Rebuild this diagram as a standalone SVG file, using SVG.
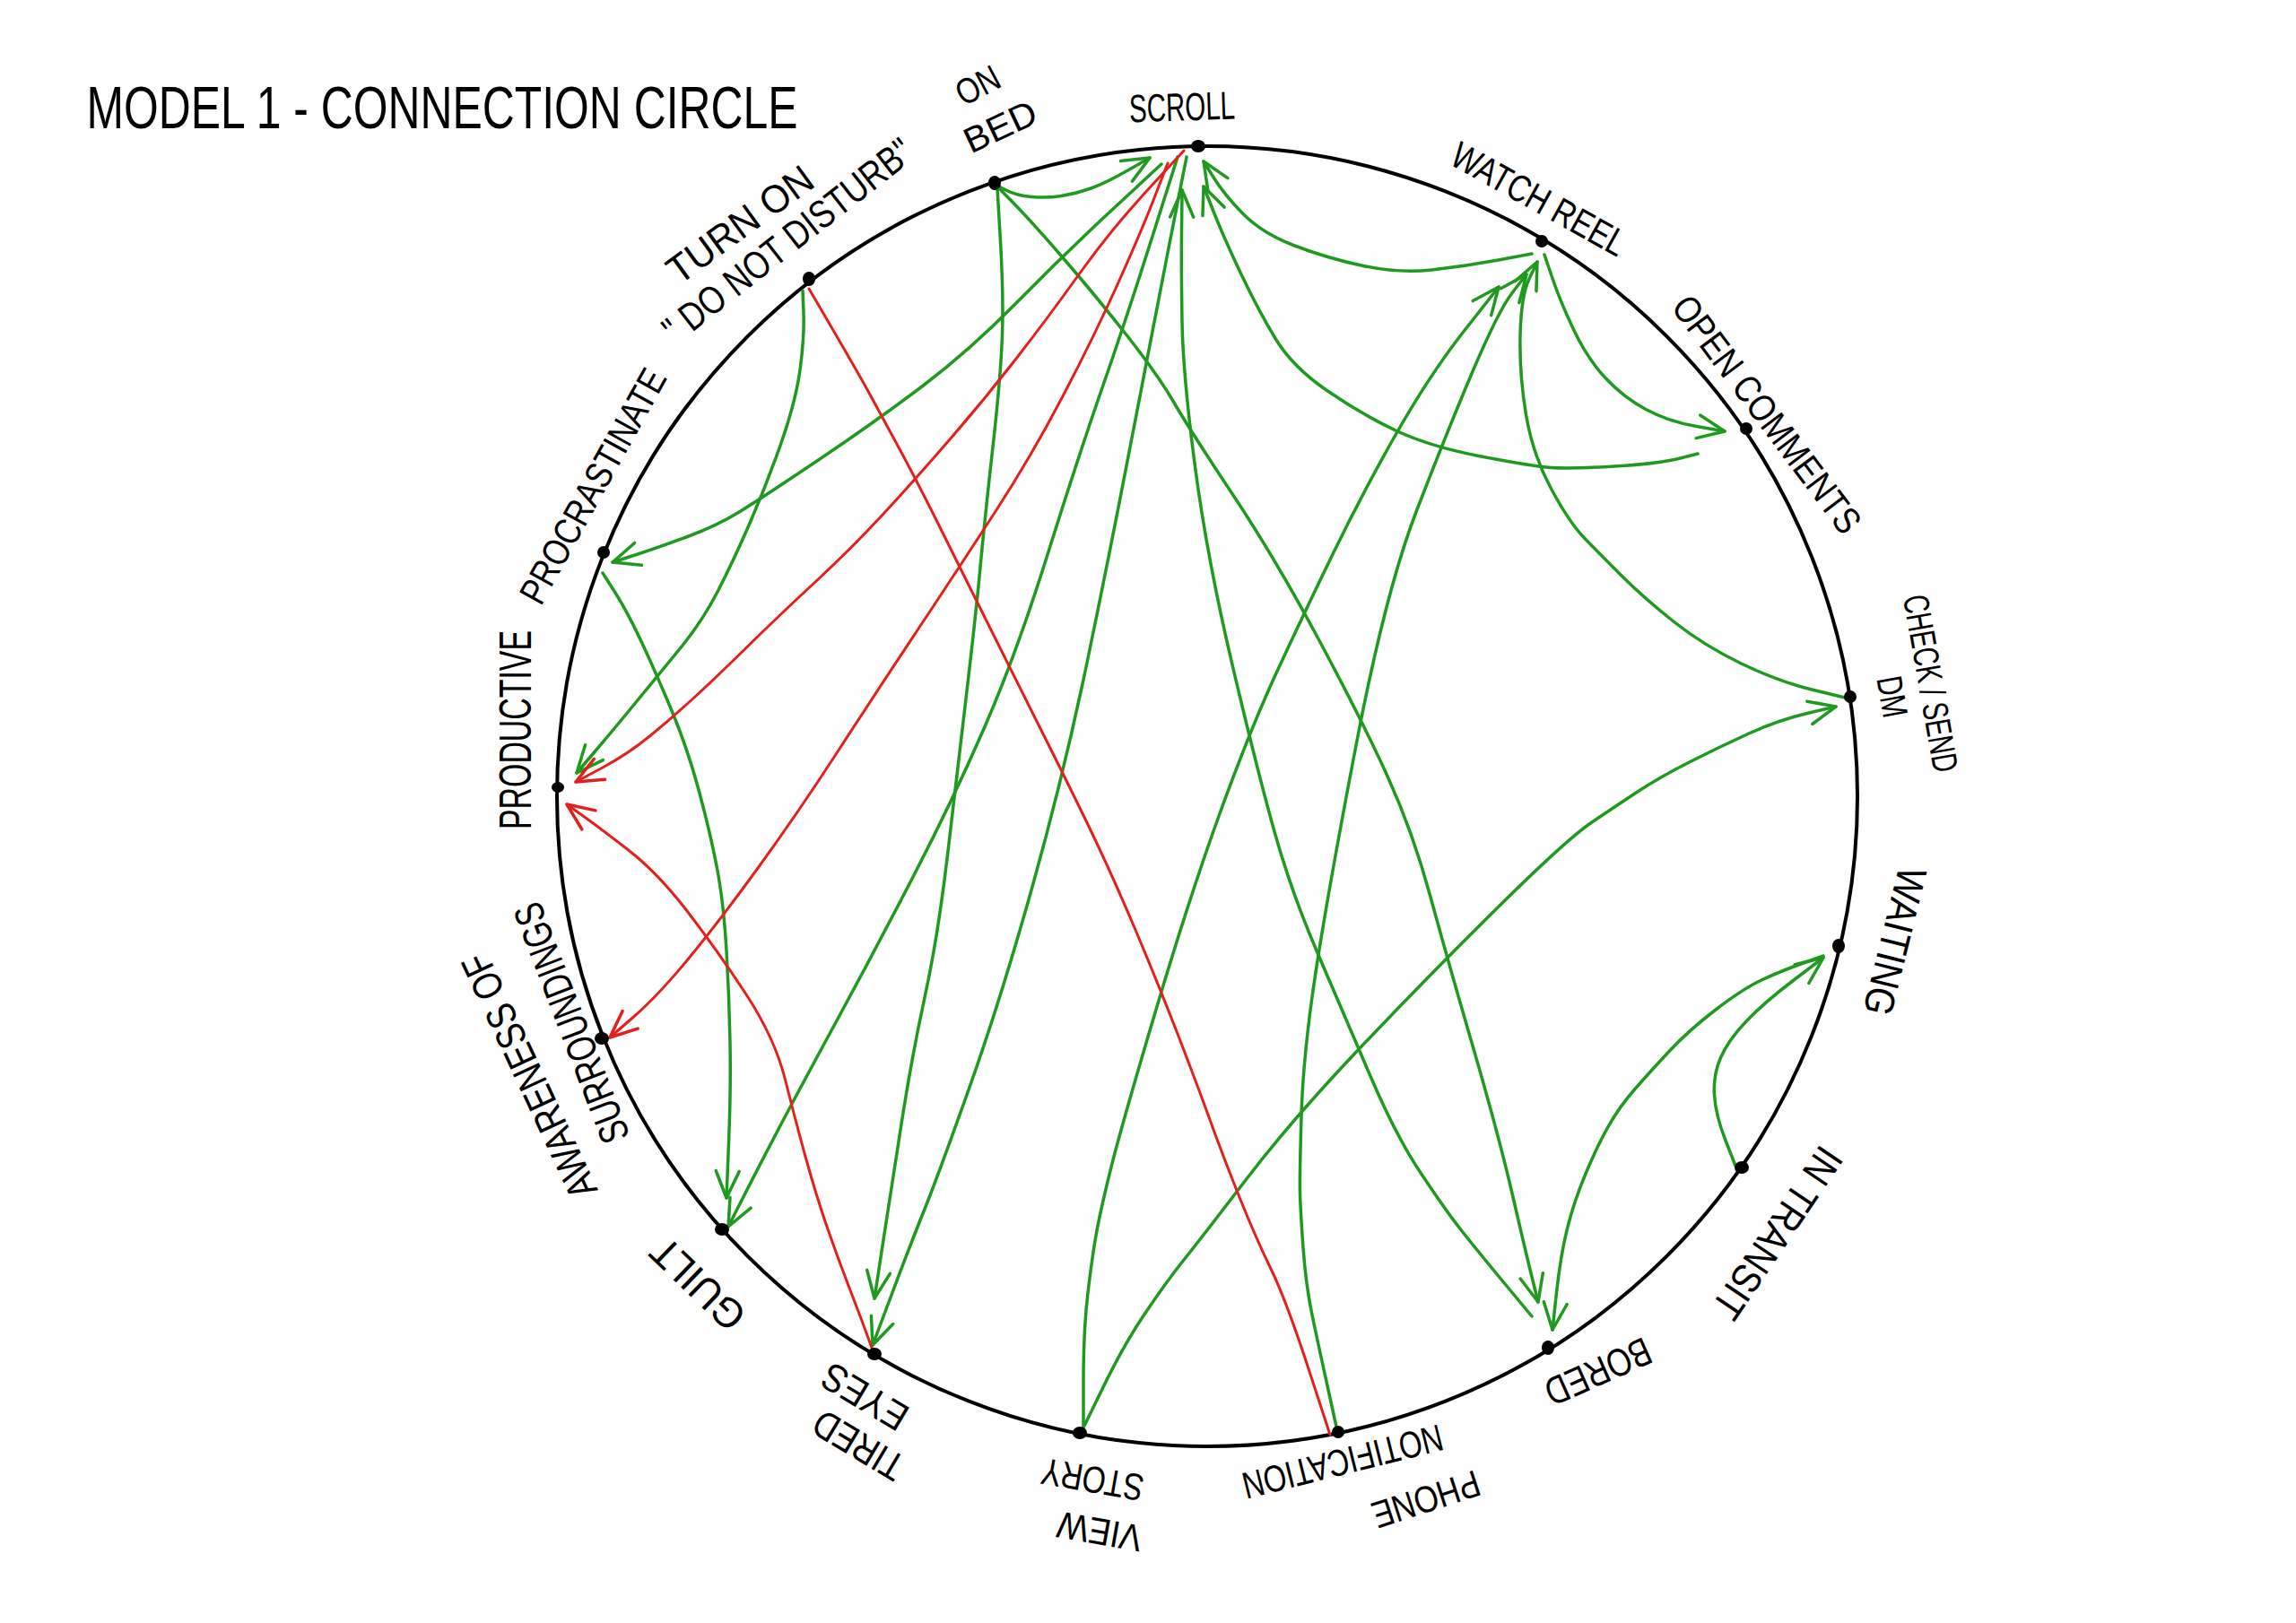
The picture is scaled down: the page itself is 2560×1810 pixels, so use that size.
<svg xmlns="http://www.w3.org/2000/svg" width="2560" height="1810" viewBox="0 0 2560 1810">
<style>
.bg{fill:#fff}
.ring{fill:none;stroke:#000;stroke-width:4}
.dot{fill:#000}
.lbl{font-family:"Liberation Sans",Arial,sans-serif;fill:#000;text-anchor:middle;dominant-baseline:central}
.g{fill:none;stroke:#1e9a1e;stroke-width:3.5;stroke-linecap:round;stroke-linejoin:round;marker-end:url(#ag)}
.r{fill:none;stroke:#e3201b;stroke-width:3;stroke-linecap:round;stroke-linejoin:round;marker-end:url(#ar)}
.r0{fill:none;stroke:#e3201b;stroke-width:3;stroke-linecap:round;stroke-linejoin:round}
</style>
<defs>
<marker id="ag" viewBox="-40 -20 50 40" refX="0" refY="0" markerWidth="50" markerHeight="40" markerUnits="userSpaceOnUse" orient="auto" overflow="visible"><path d="M-30,-13 L0,0 L-30,13" fill="none" stroke="#1e9a1e" stroke-width="3.5" stroke-linecap="round" stroke-linejoin="round"/></marker>
<marker id="ar" viewBox="-40 -20 50 40" refX="0" refY="0" markerWidth="50" markerHeight="40" markerUnits="userSpaceOnUse" orient="auto" overflow="visible"><path d="M-30,-13 L0,0 L-30,13" fill="none" stroke="#e3201b" stroke-width="3.5" stroke-linecap="round" stroke-linejoin="round"/></marker>
</defs>
<rect class="bg" x="0" y="0" width="2560" height="1810"/>
<text class="lbl" x="493" y="120" font-size="66" textLength="793" lengthAdjust="spacingAndGlyphs">MODEL 1 - CONNECTION CIRCLE</text>
<circle class="ring" cx="1346" cy="888" r="725"/>
<g id="connectors">
<path class="g" d="M1110,206 L1121.5,212 Q1133,218 1150,219.5 Q1167,221 1183.5,218.5 Q1200,216 1216.5,210 Q1233,204 1257.5,190 L1282,176"/>
<path class="g" d="M1112,210 L1115.5,269.5 Q1119,329 1117.5,373.5 Q1116,418 1107,498.5 Q1098,579 1093,632.5 Q1088,686 1077.5,775 Q1067,864 1056.5,953.5 Q1046,1043 1031.5,1110 Q1017,1177 1006.5,1244 Q996,1311 985.5,1379.5 L975,1448"/>
<path class="g" d="M1112,208 L1131.5,228 Q1151,248 1186,288.5 Q1221,329 1256,373.5 Q1291,418 1309,449 Q1327,480 1374.5,551.5 Q1422,623 1470,712.5 Q1518,802 1546.5,864.5 Q1575,927 1594.5,998.5 Q1614,1070 1642.5,1168 Q1671,1266 1686.5,1333 Q1702,1400 1708.5,1426 L1715,1452"/>
<path class="g" d="M1295,183 L1240.5,233.5 Q1186,284 1133.5,337.5 Q1081,391 1028,431 Q975,471 912.5,513 Q850,555 825,570.5 Q800,586 766.5,598.5 Q733,611 708,619 L683,627"/>
<path class="g" d="M1313,175 L1284.5,265 Q1256,355 1229.5,431 Q1203,507 1168,618.5 Q1133,730 1098,810.5 Q1063,891 1019,976 Q975,1061 931.5,1141 Q888,1221 865.5,1264 Q843,1307 827.5,1337.5 L812,1368"/>
<path class="g" d="M1323,175 L1303.5,274 Q1284,373 1261,493.5 Q1238,614 1212,739 Q1186,864 1151,989 Q1116,1114 1081,1212.5 Q1046,1311 1031.5,1347 Q1017,1383 995,1441.5 L973,1500"/>
<path class="g" d="M1708,1468 L1676.5,1430 Q1645,1392 1628.5,1371 Q1612,1350 1584,1308 Q1556,1266 1527.5,1199 Q1499,1132 1470,1065 Q1441,998 1422,931 Q1403,864 1374.5,743.5 Q1346,623 1332.5,520.5 Q1319,418 1318,359 Q1317,300 1317.5,256 L1318,212"/>
<path class="g" d="M1708,283 L1670.5,290 Q1633,297 1596.5,301 Q1560,305 1520,296.5 Q1480,288 1443.5,274 Q1407,260 1386,238.5 Q1365,217 1353.5,198.5 L1342,180"/>
<path class="g" d="M1893,506 L1871.5,511.5 Q1850,517 1800,520 Q1750,523 1729.5,521.5 Q1709,520 1651.5,509 Q1594,498 1556,480 Q1518,462 1479.5,435.5 Q1441,409 1422,377.5 Q1403,346 1384,306 Q1365,266 1353.5,237 L1342,208"/>
<path class="g" d="M1722,284 L1731,310.5 Q1740,337 1755,368.5 Q1770,400 1790,421.5 Q1810,443 1835,456.5 Q1860,470 1891.5,475.5 L1923,481"/>
<path class="g" d="M2057,778 L2020,769 Q1983,760 1941.5,740 Q1900,720 1866.5,693.5 Q1833,667 1808,642 Q1783,617 1766.5,600 Q1750,583 1729.5,545 Q1709,507 1701.5,462.5 Q1694,418 1695,374 Q1696,330 1705,311 L1714,292"/>
<path class="g" d="M1492,1600 L1481,1550 Q1470,1500 1463,1466.5 Q1456,1433 1453,1391.5 Q1450,1350 1449.5,1330.5 Q1449,1311 1451,1244 Q1453,1177 1466.5,1087.5 Q1480,998 1512.5,828.5 Q1545,659 1579.5,569.5 Q1614,480 1642.5,413 Q1671,346 1686.5,326 L1702,306"/>
<path class="g" d="M1208,1597 L1208,1540 Q1208,1483 1213,1441.5 Q1218,1400 1222.5,1375 Q1227,1350 1238.5,1303.5 Q1250,1257 1288.5,1127.5 Q1327,998 1361,904.5 Q1395,811 1424,748.5 Q1453,686 1485.5,619 Q1518,552 1556,485 Q1594,418 1632.5,369 L1671,320"/>
<path class="g" d="M1209,1590 L1231,1545 Q1253,1500 1276.5,1465 Q1300,1430 1320,1405 Q1340,1380 1390.5,1314 Q1441,1248 1517.5,1167.5 Q1594,1087 1670.5,1011.5 Q1747,936 1773.5,918 Q1800,900 1825,883.5 Q1850,867 1883.5,850 Q1917,833 1950,818 Q1983,803 2015,795.5 L2047,788"/>
<path class="g" d="M1935,1300 L1924,1272 Q1913,1244 1911.5,1221.5 Q1910,1199 1918.5,1179.5 Q1927,1160 1947,1139 Q1967,1118 2000,1093 L2033,1068"/>
<path class="g" d="M2033,1066 L2008,1075 Q1983,1084 1963,1093.5 Q1943,1103 1913,1126 Q1883,1149 1861.5,1172 Q1840,1195 1822.5,1215 Q1805,1235 1792.5,1257.5 Q1780,1280 1767.5,1310 Q1755,1340 1747.5,1370 Q1740,1400 1735.5,1441.5 L1731,1483"/>
<path class="g" d="M895,324 L896,348.5 Q897,373 892.5,409 Q888,445 871.5,492.5 Q855,540 836,583.5 Q817,627 800,660 Q783,693 758,723.5 Q733,754 708,784.5 Q683,815 663,838.5 L643,862"/>
<path class="g" d="M672,639 L686,661 Q700,683 716.5,718.5 Q733,754 750,795 Q767,836 780,884.5 Q793,933 800,971 Q807,1009 810,1060 Q813,1111 814,1162 Q815,1213 812.5,1274.5 L810,1336"/>
<path class="r" d="M1320,168 L1279,212.5 Q1238,257 1203,306 Q1168,355 1133,400 Q1098,445 1059.5,489.5 Q1021,534 985.5,572.5 Q950,611 908.5,649.5 Q867,688 833.5,721 Q800,754 775,777 Q750,800 725,820.5 Q700,841 671,856.5 L642,872"/>
<path class="r" d="M1302,182 L1287.5,219.5 Q1273,257 1247,315 Q1221,373 1186,440 Q1151,507 1110.5,569.5 Q1070,632 1022.5,703.5 Q975,775 931.5,842 Q888,909 844,969.5 Q800,1030 766.5,1070.5 Q733,1111 706.5,1134 L680,1157"/>
<path class="r" d="M972,1503 L966,1486.5 Q960,1470 946.5,1435 Q933,1400 921.5,1366.5 Q910,1333 898.5,1291.5 Q887,1250 875.5,1204 Q864,1158 832,1109 Q800,1060 766.5,1016.5 Q733,973 700,947.5 Q667,922 649.5,909.5 L632,897"/>
<path class="r0" d="M902,322 L930,370 Q958,418 970,440 Q982,462 1001.5,498 Q1021,534 1045.5,583 Q1070,632 1096.5,685.5 Q1123,739 1154.5,801.5 Q1186,864 1212,917.5 Q1238,971 1264.5,1033.5 Q1291,1096 1313,1153 Q1335,1210 1350,1251.5 Q1365,1293 1382.5,1336.5 Q1400,1380 1417,1415 Q1434,1450 1458.5,1525 L1483,1600"/>
</g>
<g id="n-scroll"><ellipse class="dot" cx="1336" cy="163" rx="8" ry="7"/><text class="lbl" font-size="44" textLength="118" lengthAdjust="spacingAndGlyphs" transform="translate(1318,119) rotate(-2)">SCROLL</text></g>
<g id="n-watch-reel"><ellipse class="dot" cx="1719" cy="269" rx="7" ry="7"/><text class="lbl" font-size="42" textLength="216" lengthAdjust="spacingAndGlyphs" transform="translate(1716,222) rotate(29)">WATCH REEL</text></g>
<g id="n-open-comments"><ellipse class="dot" cx="1947" cy="478" rx="7" ry="7"/><text class="lbl" font-size="42" textLength="320" lengthAdjust="spacingAndGlyphs" transform="translate(1970,462) rotate(53)">OPEN COMMENTS</text></g>
<g id="n-check-dm"><ellipse class="dot" cx="2063" cy="777" rx="7" ry="7"/><text class="lbl" font-size="40" textLength="200" lengthAdjust="spacingAndGlyphs" transform="translate(2153,762) rotate(80)">CHECK / SEND</text><text class="lbl" font-size="40" textLength="46" lengthAdjust="spacingAndGlyphs" transform="translate(2110,777) rotate(80)">DM</text></g>
<g id="n-waiting"><ellipse class="dot" cx="2050" cy="1055" rx="7" ry="8"/><text class="lbl" font-size="46" textLength="168" lengthAdjust="spacingAndGlyphs" transform="translate(2113,1050) rotate(104)">WAITING</text></g>
<g id="n-in-transit"><ellipse class="dot" cx="1942" cy="1302" rx="8" ry="7"/><text class="lbl" font-size="46" textLength="220" lengthAdjust="spacingAndGlyphs" transform="translate(1982,1375) rotate(124)">IN TRANSIT</text></g>
<g id="n-bored"><ellipse class="dot" cx="1726" cy="1503" rx="7" ry="8"/><text class="lbl" font-size="44" textLength="125" lengthAdjust="spacingAndGlyphs" transform="translate(1782,1530) rotate(156)">BORED</text></g>
<g id="n-phone-notification"><ellipse class="dot" cx="1492" cy="1597" rx="7" ry="7"/><text class="lbl" font-size="42" textLength="124" lengthAdjust="spacingAndGlyphs" transform="translate(1590,1672) rotate(162)">PHONE</text><text class="lbl" font-size="42" textLength="229" lengthAdjust="spacingAndGlyphs" transform="translate(1497,1630) rotate(166)">NOTIFICATION</text></g>
<g id="n-view-story"><ellipse class="dot" cx="1204" cy="1598" rx="8" ry="7"/><text class="lbl" font-size="42" textLength="95" lengthAdjust="spacingAndGlyphs" transform="translate(1226,1708) rotate(190)">VIEW</text><text class="lbl" font-size="42" textLength="115" lengthAdjust="spacingAndGlyphs" transform="translate(1218,1650) rotate(190)">STORY</text></g>
<g id="n-tired-eyes"><ellipse class="dot" cx="975" cy="1510" rx="8" ry="7"/><text class="lbl" font-size="44" textLength="110" lengthAdjust="spacingAndGlyphs" transform="translate(957,1612) rotate(211)">TIRED</text><text class="lbl" font-size="44" textLength="104" lengthAdjust="spacingAndGlyphs" transform="translate(964,1558) rotate(211)">EYES</text></g>
<g id="n-guilt"><ellipse class="dot" cx="805" cy="1371" rx="8" ry="7"/><text class="lbl" font-size="46" textLength="127" lengthAdjust="spacingAndGlyphs" transform="translate(778,1432) rotate(224)">GUILT</text></g>
<g id="n-awareness"><ellipse class="dot" cx="671" cy="1158" rx="8" ry="7"/><text class="lbl" font-size="46" textLength="296" lengthAdjust="spacingAndGlyphs" transform="translate(590,1200) rotate(-115)">AWARENESS OF</text><text class="lbl" font-size="46" textLength="283" lengthAdjust="spacingAndGlyphs" transform="translate(637,1141) rotate(-111)">SURROUNDINGS</text></g>
<g id="n-productive"><ellipse class="dot" cx="622" cy="878" rx="7" ry="6"/><text class="lbl" font-size="50" textLength="222" lengthAdjust="spacingAndGlyphs" transform="translate(575,814) rotate(-90)">PRODUCTIVE</text></g>
<g id="n-procrastinate"><ellipse class="dot" cx="673" cy="616" rx="7" ry="7"/><text class="lbl" font-size="42" textLength="292" lengthAdjust="spacingAndGlyphs" transform="translate(661,542) rotate(-61)">PROCRASTINATE</text></g>
<g id="n-dnd"><ellipse class="dot" cx="902" cy="311" rx="7" ry="8"/><text class="lbl" font-size="44" textLength="190" lengthAdjust="spacingAndGlyphs" transform="translate(825,250) rotate(-36)">TURN ON</text><text class="lbl" font-size="44" textLength="340" lengthAdjust="spacingAndGlyphs" transform="translate(878,268) rotate(-38)">" DO NOT DISTURB"</text></g>
<g id="n-on-bed"><ellipse class="dot" cx="1109" cy="204" rx="7" ry="8"/><text class="lbl" font-size="40" textLength="50" lengthAdjust="spacingAndGlyphs" transform="translate(1090,95) rotate(-28)">ON</text><text class="lbl" font-size="40" textLength="85" lengthAdjust="spacingAndGlyphs" transform="translate(1115,141) rotate(-25)">BED</text></g>
</svg>
